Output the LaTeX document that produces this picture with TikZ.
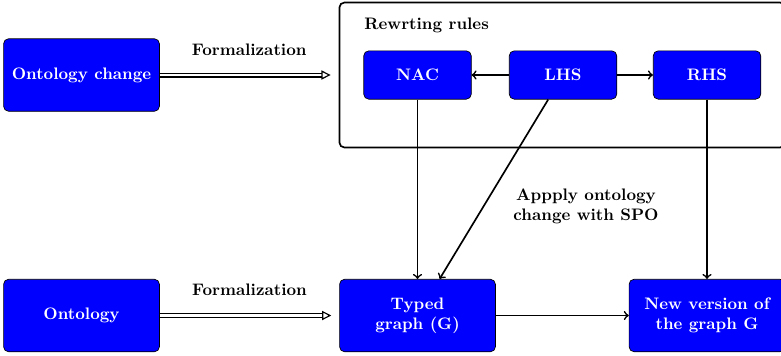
\documentclass[tikz,border=0pt]{standalone}
\usetikzlibrary{calc,arrows.meta,fit}
\tikzset{
    block/.style = {draw, rectangle, rounded corners=3pt, fill=blue, text=white,
        font=\bfseries, minimum height=43.5pt,
        minimum width=93.5pt, align=center},
    rulebox/.style = {draw, rectangle, rounded corners=3pt, fill=blue, text=white,
        font=\bfseries, minimum height=29pt, minimum width=64.5pt},
    container/.style = {draw, rectangle, rounded corners=3pt, line width=1pt},
    arrow/.style = {draw, line width=1pt, ->},
    formal/.style = {draw, line width=0.7pt, double, double distance=1.6pt,
        -{Triangle[open, length=5.5pt, width=5.5pt]}, shorten >=4.8pt},
    textlabel/.style = {font=\bfseries, align=center}
}

\begin{document}
\begin{tikzpicture}[x=0.6pt, y=-0.6pt, >=to]
    \useasboundingbox (0,0) rectangle (781,355);
    \node [block] (ontochange) at (81.5,75) {Ontology change};
    \node [rulebox, right of=ontochange, node distance=201.6pt] (NAC) {NAC};
    \node [rulebox, right of=NAC, node distance=87.3pt] (LHS) {LHS};
    \node [rulebox, right of=LHS, node distance=86.4pt] (RHS) {RHS};
    \node [container, fit=(NAC)(RHS), inner xsep=14.4pt, inner ysep=28.8pt] (rules) {};
    \node [textlabel, anchor=west] (rulestitle) at ($(NAC.north west)+(-3pt,15pt)$) {Rewrting rules};
    \draw [formal] (ontochange) -- node[textlabel, above=8pt] (formal1) {Formalization} (rules);
    \draw [arrow] (LHS) -- (NAC);
    \draw [arrow] (LHS) -- (RHS);
    \node [block, below of=ontochange, node distance=144.3pt] (onto) {Ontology};
    \node [block, right of=onto, node distance=201.6pt] (typed) {Typed\\graph (G)};
    \node [block, right of=typed, node distance=173.7pt] (newver) {New version of\\the graph G};
    \draw [formal] (onto) -- node[textlabel, above=8pt] (formal2) {Formalization} (typed);
    \draw [arrow] (NAC) -- (typed);
    \draw [arrow] (LHS) -- (typed);
    \draw [arrow] (RHS) -- (newver);
    \draw [arrow] (typed) -- (newver);
    \node [textlabel] (spo) at (586,206) {Appply ontology\\change with SPO};
\end{tikzpicture}
\end{document}
